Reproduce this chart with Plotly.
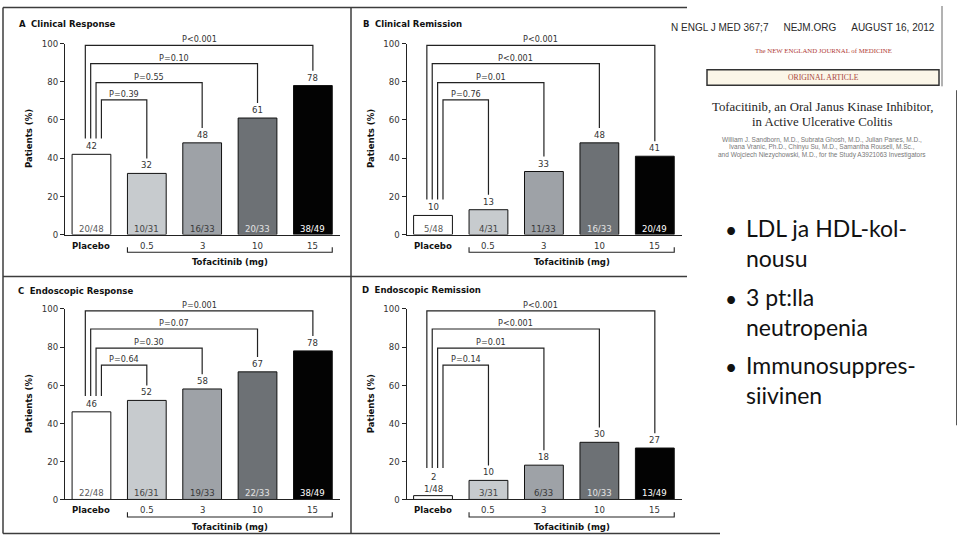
import plotly.graph_objects as go

W, H = 960, 540


def px(x):
    return x / W


def py(y):
    return 1 - y / H


# ---------------- data ----------------
doses = ["Placebo", "0.5", "3", "10", "15"]
panel_letters = ["A", "B", "C", "D"]
panel_titles = ["Clinical Response", "Clinical Remission",
                "Endoscopic Response", "Endoscopic Remission"]

clin_resp_pct = [42, 32, 48, 61, 78]
clin_resp_n = ["20/48", "10/31", "16/33", "20/33", "38/49"]
clin_resp_p = ["P=0.39", "P=0.55", "P=0.10", "P<0.001"]

clin_rem_pct = [10, 13, 33, 48, 41]
clin_rem_n = ["5/48", "4/31", "11/33", "16/33", "20/49"]
clin_rem_p = ["P=0.76", "P=0.01", "P<0.001", "P<0.001"]

endo_resp_pct = [46, 52, 58, 67, 78]
endo_resp_n = ["22/48", "16/31", "19/33", "22/33", "38/49"]
endo_resp_p = ["P=0.64", "P=0.30", "P=0.07", "P=0.001"]

endo_rem_pct = [2, 10, 18, 30, 27]
endo_rem_n = ["1/48", "3/31", "6/33", "10/33", "13/49"]
endo_rem_p = ["P=0.14", "P=0.01", "P<0.001", "P<0.001"]

y_ticks = [0, 20, 40, 60, 80, 100]
dose_axis_title = "Tofacitinib (mg)"
y_title = "Patients (%)"

header_line = "N ENGL J MED 367;7\u2003\u2002NEJM.ORG\u2003\u2002AUGUST 16, 2012"
journal_name = "The NEW ENGLAND JOURNAL of MEDICINE"
article_type = "ORIGINAL ARTICLE"
article_title = ["Tofacitinib, an Oral Janus Kinase Inhibitor,",
                 "in Active Ulcerative Colitis"]
authors = ["William J. Sandborn, M.D., Subrata Ghosh, M.D., Julian Panes, M.D.,",
           "Ivana Vranic, Ph.D., Chinyu Su, M.D., Samantha Rousell, M.Sc.,",
           "and Wojciech Niezychowski, M.D., for the Study A3921063 Investigators"]
bullets = [["LDL ja HDL-kol-", "nousu"],
           ["3 pt:lla", "neutropenia"],
           ["Immunosuppres-", "siivinen"]]

panel_pct = [clin_resp_pct, clin_rem_pct, endo_resp_pct, endo_rem_pct]
panel_n = [clin_resp_n, clin_rem_n, endo_resp_n, endo_rem_n]
panel_p = [clin_resp_p, clin_rem_p, endo_resp_p, endo_rem_p]

# ---------------- style / layout ----------------
FONT = "Liberation Sans Narrow, DejaVu Sans Condensed, Arial Narrow, sans-serif"
INK = "#222222"
TXT = "#333333"
bar_colors = ["#ffffff", "#c7cbce", "#9ea2a7", "#6d7175", "#030303"]
n_colors = ["#5a5a5a", "#454545", "#383838", "#e4e4e4", "#ffffff"]
bar_width = 0.7
bracket_tops = [70.5, 79.5, 89.5, 99]
x_range = [-0.478, 4.49]

# panel geometry in screen px
panels = [
    dict(x0=65, x1=340, y0=233.3, y100=38.3, tx=17, ty=18, ytx=28),
    dict(x0=406.5, x1=682, y0=233.3, y100=38.3, tx=361, ty=18, ytx=370),
    dict(x0=65, x1=340, y0=503.7, y100=309.3, tx=16, ty=290, ytx=28),
    dict(x0=406.5, x1=682, y0=503.7, y100=309.3, tx=360, ty=289, ytx=370),
]

fig = go.Figure()
annotations = []
shapes = []
layout_axes = {}

for i, g in enumerate(panels):
    sfx = "" if i == 0 else str(i + 1)
    xa, ya = "x" + sfx, "y" + sfx
    vals = panel_pct[i]
    xs = list(range(len(doses)))

    fig.add_trace(go.Bar(
        x=xs, y=vals, width=bar_width, xaxis=xa, yaxis=ya,
        marker=dict(color=bar_colors, line=dict(color="#111111", width=1)),
        hoverinfo="skip", showlegend=False))

    layout_axes["xaxis" + sfx] = dict(
        domain=[px(g["x0"]), px(g["x1"])], range=x_range, anchor=ya,
        showline=True, linecolor=INK, linewidth=1, showticklabels=False,
        ticks="", showgrid=False, zeroline=False, fixedrange=True)
    layout_axes["yaxis" + sfx] = dict(
        domain=[py(g["y0"]), py(g["y100"])], range=[0, 100], anchor=xa,
        showline=True, linecolor=INK, linewidth=1, ticks="outside",
        ticklen=4, tickcolor=INK, tickvals=y_ticks,
        tickfont=dict(size=9.5, color=TXT, family=FONT),
        showgrid=False, zeroline=False, fixedrange=True)

    # value labels and n labels
    label_gap = []
    for j, v in enumerate(vals):
        small = v < 6
        annotations.append(dict(
            xref=xa, yref=ya, x=j, y=v, text=str(v), showarrow=False,
            yanchor="bottom", yshift=12 if small else 1,
            font=dict(size=9.5, color=TXT, family=FONT)))
        annotations.append(dict(
            xref=xa, yref=ya, x=j, y=v if small else 0, text=panel_n[i][j],
            showarrow=False, yanchor="bottom", yshift=0 if small else -1,
            font=dict(size=9.5, color=TXT if small else n_colors[j], family=FONT)))
        label_gap.append(14.5 if small else 8.3)
        # x tick labels
        annotations.append(dict(
            xref=xa, yref=ya, x=j, y=0, yanchor="top", yshift=-3,
            text=("<b>%s</b>" % doses[j]) if j == 0 else doses[j],
            showarrow=False,
            font=dict(size=9.5, color="#111111" if j == 0 else TXT, family=FONT)))

    # comparison brackets
    for k in range(4):
        t = k + 1
        xl = 0.18 - 0.097 * k
        top = bracket_tops[k]
        yl = vals[0] + label_gap[0]
        yr = vals[t] + 7.8
        shapes.append(dict(
            type="path", xref=xa, yref=ya,
            path="M %g,%g L %g,%g L %g,%g L %g,%g" % (xl, yl, xl, top, t, top, t, yr),
            line=dict(color=INK, width=1.2)))
        annotations.append(dict(
            xref=xa, yref=ya, x=(xl + t) / 2, y=top, yanchor="bottom", yshift=-1,
            text=panel_p[i][k], showarrow=False,
            font=dict(size=9, color=TXT, family=FONT)))

    # tofacitinib bracket under doses
    bl, br = 1 - bar_width / 2, 4 + bar_width / 2
    shapes.append(dict(
        type="path", xref=xa, yref=ya + " domain",
        path="M %g,%g L %g,%g L %g,%g L %g,%g" % (bl, -0.067, bl, -0.0925, br, -0.0925, br, -0.067),
        line=dict(color=INK, width=1.1)))
    annotations.append(dict(
        xref=xa, yref=ya + " domain", x=2.5, y=-0.142, yanchor="middle",
        text="<b>%s</b>" % dose_axis_title, showarrow=False,
        font=dict(size=9.5, color="#111111", family=FONT)))

    # y axis title
    annotations.append(dict(
        xref="paper", yref=ya + " domain", x=px(g["ytx"]), y=0.5,
        text="<b>%s</b>" % y_title, textangle=-90, showarrow=False,
        xanchor="center", yanchor="middle",
        font=dict(size=9.5, color="#111111", family=FONT)))

    # panel title
    annotations.append(dict(
        xref="paper", yref="paper", x=px(g["tx"]), y=py(g["ty"]),
        xanchor="left", yanchor="middle", showarrow=False,
        text="<b>%s</b>\u00a0\u00a0<b>%s</b>" % (panel_letters[i], panel_titles[i]),
        font=dict(size=9.5, color="#111111", family=FONT)))

# figure frame lines
frame_col = "#3c3c3c"
for (x0, y0, x1, y1) in [(3, 1.5, 687, 1.5), (3, 1.5, 3, 538.5), (3, 538.5, 720, 538.5),
                         (351, 1.5, 351, 538.5), (3, 276, 687, 276)]:
    shapes.append(dict(type="line", xref="paper", yref="paper",
                       x0=px(x0), y0=py(y0), x1=px(x1), y1=py(y1),
                       line=dict(color=frame_col, width=1.5)))

# ---------------- right-hand slide content ----------------
annotations.append(dict(
    xref="paper", yref="paper", x=px(937), y=py(22), xanchor="right", yanchor="middle",
    text=header_line, showarrow=False,
    font=dict(size=10, color="#2a2a2a", family="Liberation Sans, sans-serif")))
annotations.append(dict(
    xref="paper", yref="paper", x=px(823), y=py(45), xanchor="center", yanchor="middle",
    text=journal_name, showarrow=False,
    font=dict(size=6.8, color="#b03a36", family="Liberation Serif, serif")))
shapes.append(dict(type="rect", xref="paper", yref="paper",
                   x0=px(707), x1=px(939), y0=py(81), y1=py(65),
                   fillcolor="#fbf6e8", line=dict(color="#333333", width=1.5)))
annotations.append(dict(
    xref="paper", yref="paper", x=px(823), y=py(73), xanchor="center", yanchor="middle",
    text=article_type, showarrow=False,
    font=dict(size=7.7, color="#a8443d", family="Liberation Serif, serif")))
shapes.append(dict(type="line", xref="paper", yref="paper",
                   x0=px(942), x1=px(942), y0=py(0), y1=py(82),
                   line=dict(color="#666666", width=1)))
for li, line in enumerate(article_title):
    annotations.append(dict(
        xref="paper", yref="paper", x=px(822), y=py(103 + 15 * li),
        xanchor="center", yanchor="middle", text=line, showarrow=False,
        font=dict(size=12.8, color="#1e1e1e", family="Liberation Serif, serif")))
for li, line in enumerate(authors):
    annotations.append(dict(
        xref="paper", yref="paper", x=px(822), y=py(136 + 8.2 * li),
        xanchor="center", yanchor="middle", text=line, showarrow=False,
        font=dict(size=6.5, color="#777777", family="Liberation Sans, sans-serif")))

shapes.append(dict(type="line", xref="paper", yref="paper",
                   x0=px(956.5), x1=px(956.5), y0=py(86), y1=py(428),
                   line=dict(color="#555555", width=1)))

bullet_mid = [242, 312, 381.5]
for bi, lines in enumerate(bullets):
    annotations.append(dict(
        xref="paper", yref="paper", x=px(731), y=py(bullet_mid[bi] - 13.5),
        xanchor="center", yanchor="middle", text="\u2022", showarrow=False,
        font=dict(size=21, color="#111111", family="Lato, sans-serif")))
    annotations.append(dict(
        xref="paper", yref="paper", x=px(744), y=py(bullet_mid[bi]),
        xanchor="left", yanchor="middle", align="left",
        text="<br>".join(lines), showarrow=False,
        font=dict(size=23, color="#111111", family="Lato, sans-serif")))

fig.update_layout(
    width=W, height=H, margin=dict(l=0, r=0, t=0, b=0),
    paper_bgcolor="#ffffff", plot_bgcolor="rgba(0,0,0,0)",
    font=dict(family=FONT, color=TXT),
    bargap=0, showlegend=False,
    annotations=annotations, shapes=shapes, **layout_axes)

fig.write_html(
    "out.html",
    config={"displayModeBar": False, "staticPlot": True},
    post_script="document.body.style.margin='0';document.body.style.padding='0';"
                "document.body.style.overflow='hidden';")
